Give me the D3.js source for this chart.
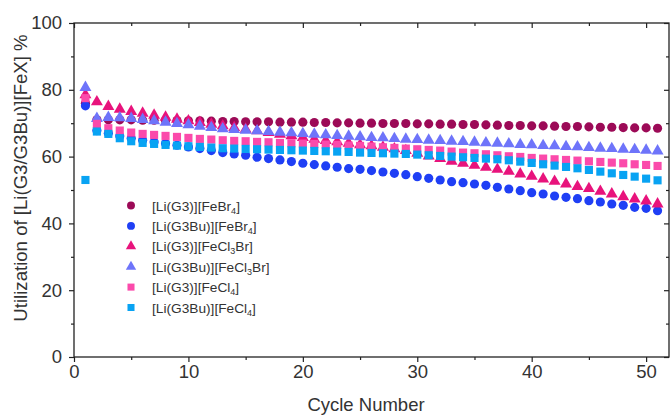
<html>
<head>
    <script src="https://d3js.org/d3.v7.min.js"></script>
    <style>
        body { margin: 0; background: #fff; }
        text { font-family: "Liberation Sans", Arial, sans-serif; }
    </style>
</head>
<body>
    <div id="vis"></div>
<script>

    // Data: utilisation (%) for cycles 1..51
    var cycles = d3.range(1, 52);

    var g3FeBr4 = [76.0, 71.0, 71.0, 71.0, 71.0, 70.9, 70.9, 70.8, 70.8, 70.7,
        70.7, 70.6, 70.5, 70.5, 70.4, 70.4, 70.4, 70.3, 70.3, 70.3,
        70.2, 70.2, 70.1, 70.1, 70.0, 70.0, 69.9, 69.9, 69.9, 69.8,
        69.8, 69.7, 69.7, 69.6, 69.6, 69.5, 69.4, 69.3, 69.3, 69.2,
        69.2, 69.1, 69.0, 69.0, 68.9, 68.8, 68.8, 68.7, 68.6, 68.6, 68.5];

    var g3buFeBr4 = [75.2, 67.8, 67.0, 66.2, 65.5, 64.9, 64.4, 63.9, 63.4, 62.9,
        62.4, 61.8, 61.2, 60.8, 60.4, 59.8, 59.4, 59.0, 58.5, 58.0,
        57.6, 57.2, 56.8, 56.4, 56.2, 55.8, 55.4, 55.0, 54.6, 54.0,
        53.5, 53.0, 52.5, 52.2, 51.8, 51.4, 50.8, 50.3, 49.8, 49.2,
        48.8, 48.2, 47.8, 47.4, 46.8, 46.4, 45.8, 45.4, 44.8, 44.5, 43.8];

    var g3FeCl3Br = [78.5, 76.4, 75.0, 74.2, 73.5, 73.0, 72.4, 71.8, 71.2, 70.7,
        70.2, 69.7, 69.2, 68.7, 68.2, 67.7, 67.2, 66.7, 66.2, 65.7,
        65.2, 64.8, 64.4, 64.0, 63.5, 63.2, 62.8, 62.3, 61.8, 61.0,
        60.2, 59.4, 58.6, 58.0, 57.4, 56.8, 56.2, 55.6, 54.8, 54.1,
        53.3, 52.6, 51.8, 51.0, 50.4, 49.6, 48.8, 48.0, 47.3, 46.7, 45.8];

    var g3buFeCl3Br = [80.7, 71.4, 71.7, 71.6, 71.4, 71.1, 70.7, 70.3, 69.9, 69.5,
        69.1, 68.7, 68.3, 68.1, 67.9, 67.7, 67.5, 67.3, 67.1, 66.9,
        66.7, 66.5, 66.3, 66.1, 65.9, 65.7, 65.6, 65.4, 65.2, 65.1,
        64.9, 64.8, 64.6, 64.5, 64.3, 64.1, 64.0, 63.8, 63.6, 63.5,
        63.3, 63.2, 63.0, 62.9, 62.7, 62.5, 62.4, 62.2, 62.1, 61.9, 61.7];

    var g3FeCl4 = [77.5, 69.8, 68.5, 67.8, 67.2, 66.8, 66.5, 66.2, 65.9, 65.6,
        65.3, 65.1, 64.9, 64.7, 64.6, 64.4, 64.3, 64.1, 64.0, 63.9,
        63.8, 63.6, 63.5, 63.3, 63.2, 63.0, 62.8, 62.6, 62.4, 62.2,
        62.0, 61.8, 61.5, 61.2, 61.0, 60.7, 60.4, 60.1, 59.9, 59.6,
        59.4, 59.2, 59.0, 58.8, 58.6, 58.4, 58.2, 58.0, 57.7, 57.5, 57.2];

    var g3buFeCl4 = [53.0, 67.5, 66.8, 65.5, 64.6, 64.1, 63.8, 63.5, 63.3, 63.1,
        62.9, 62.7, 62.5, 62.4, 62.3, 62.2, 62.1, 62.0, 61.9, 61.8,
        61.7, 61.6, 61.5, 61.4, 61.2, 61.1, 61.0, 60.9, 60.8, 60.6,
        60.4, 60.2, 60.0, 59.8, 59.6, 59.4, 59.2, 58.9, 58.5, 58.1,
        57.7, 57.3, 56.9, 56.5, 56.0, 55.5, 55.0, 54.5, 54.0, 53.4, 52.9];

    var xTicks = [0, 10, 20, 30, 40, 50];
    var yTicks = [0, 20, 40, 60, 80, 100];

    // legend names: [text before subscript, subscript, text after]
    var series = [
        { name: ["[Li(G3)][FeBr", "4", "]"], values: g3FeBr4, color: "#9c0a57", shape: d3.symbolCircle },
        { name: ["[Li(G3Bu)][FeBr", "4", "]"], values: g3buFeBr4, color: "#1f3ff5", shape: d3.symbolCircle },
        { name: ["[Li(G3)][FeCl", "3", "Br]"], values: g3FeCl3Br, color: "#e8137c", shape: d3.symbolTriangle },
        { name: ["[Li(G3Bu)][FeCl", "3", "Br]"], values: g3buFeCl3Br, color: "#6e74fa", shape: d3.symbolTriangle },
        { name: ["[Li(G3)][FeCl", "4", "]"], values: g3FeCl4, color: "#fb4aab", shape: d3.symbolSquare },
        { name: ["[Li(G3Bu)][FeCl", "4", "]"], values: g3buFeCl4, color: "#08a3f3", shape: d3.symbolSquare }
    ];

    //Setting up the graph area
    var margin = { top: 23, right: 1, bottom: 60, left: 74 },
        width = 670 - margin.left - margin.right,
        height = 417 - margin.top - margin.bottom;

    var svg = d3.select("#vis")
        .append("svg")
        .attr("width", 670)
        .attr("height", 417)
        .append("g")
        .attr("transform", "translate(" + margin.left + "," + margin.top + ")");

    var x = d3.scaleLinear().domain([0, 52]).range([0, width]);
    var y = d3.scaleLinear().domain([0, 100]).range([height, 0]);

    var markerSize = { circle: 66, triangle: 62, square: 66 };
    function sizeOf(shape) {
        if (shape === d3.symbolTriangle) return markerSize.triangle;
        if (shape === d3.symbolSquare) return markerSize.square;
        return markerSize.circle;
    }

    // the points, legend order so later series lie on top
    series.forEach(function (s) {
        svg.append("g")
            .selectAll("path")
            .data(s.values)
            .enter()
            .append("path")
            .attr("transform", function (d, i) {
                return "translate(" + x(cycles[i]) + "," + y(d) + ")";
            })
            .attr("d", d3.symbol().type(s.shape).size(sizeOf(s.shape)))
            .style("fill", s.color);
    });

    // axes: outward ticks on left/bottom, inward on top/right
    var axisColor = "#222";
    function styleAxis(g, labels) {
        g.select(".domain").remove();
        g.selectAll("line").attr("stroke", axisColor).attr("stroke-width", 1.2);
        g.selectAll("text")
            .style("font-size", "18.5px")
            .style("fill", "#333");
        if (!labels) g.selectAll("text").remove();
    }

    var xMinor = d3.range(5, 52, 10);
    var yMinor = d3.range(10, 100, 20);

    svg.append("g")
        .attr("transform", "translate(0," + height + ")")
        .call(d3.axisBottom(x).tickValues(xTicks).tickSize(5).tickPadding(3))
        .call(styleAxis, true);
    svg.append("g")
        .attr("transform", "translate(0," + height + ")")
        .call(d3.axisBottom(x).tickValues(xMinor).tickSize(3))
        .call(styleAxis, false);

    svg.append("g")
        .call(d3.axisLeft(y).tickValues(yTicks).tickSize(5).tickPadding(7))
        .call(styleAxis, true);
    svg.append("g")
        .call(d3.axisLeft(y).tickValues(yMinor).tickSize(3))
        .call(styleAxis, false);

    svg.append("g")
        .call(d3.axisTop(x).tickValues(xTicks).tickSize(-5))
        .call(styleAxis, false);
    svg.append("g")
        .call(d3.axisTop(x).tickValues(xMinor).tickSize(-3))
        .call(styleAxis, false);

    svg.append("g")
        .attr("transform", "translate(" + width + ",0)")
        .call(d3.axisRight(y).tickValues(yTicks).tickSize(-5))
        .call(styleAxis, false);
    svg.append("g")
        .attr("transform", "translate(" + width + ",0)")
        .call(d3.axisRight(y).tickValues(yMinor).tickSize(-3))
        .call(styleAxis, false);

    // frame
    svg.append("rect")
        .attr("width", width)
        .attr("height", height)
        .attr("fill", "none")
        .attr("stroke", axisColor)
        .attr("stroke-width", 1.3);

    // axis titles
    svg.append("text")
        .attr("text-anchor", "middle")
        .attr("x", 366 - margin.left)
        .attr("y", 411 - margin.top)
        .style("font-size", "18.5px")
        .style("fill", "#333")
        .text("Cycle Number");

    svg.append("text")
        .attr("text-anchor", "middle")
        .attr("transform", "rotate(-90)")
        .attr("x", -(178 - margin.top))
        .attr("y", -margin.left + 27)
        .style("font-size", "18.6px")
        .style("fill", "#333")
        .text("Utilization of [Li(G3/G3Bu)][FeX] %");

    // legend
    var legend = svg.append("g")
        .attr("transform", "translate(" + (131 - margin.left) + "," + (205.5 - margin.top) + ")");

    series.forEach(function (s, i) {
        var row = legend.append("g").attr("transform", "translate(0," + (i * 20.4) + ")");
        row.append("path")
            .attr("d", d3.symbol().type(s.shape).size(sizeOf(s.shape) * 0.75))
            .style("fill", s.color);
        var t = row.append("text")
            .attr("x", 21)
            .attr("y", 5)
            .style("font-size", "13.7px")
            .style("fill", "#333");
        t.append("tspan").text(s.name[0]);
        t.append("tspan").attr("dy", 3).style("font-size", "9px").text(s.name[1]);
        t.append("tspan").attr("dy", -3).text(s.name[2]);
    });

</script>
</body>
</html>
